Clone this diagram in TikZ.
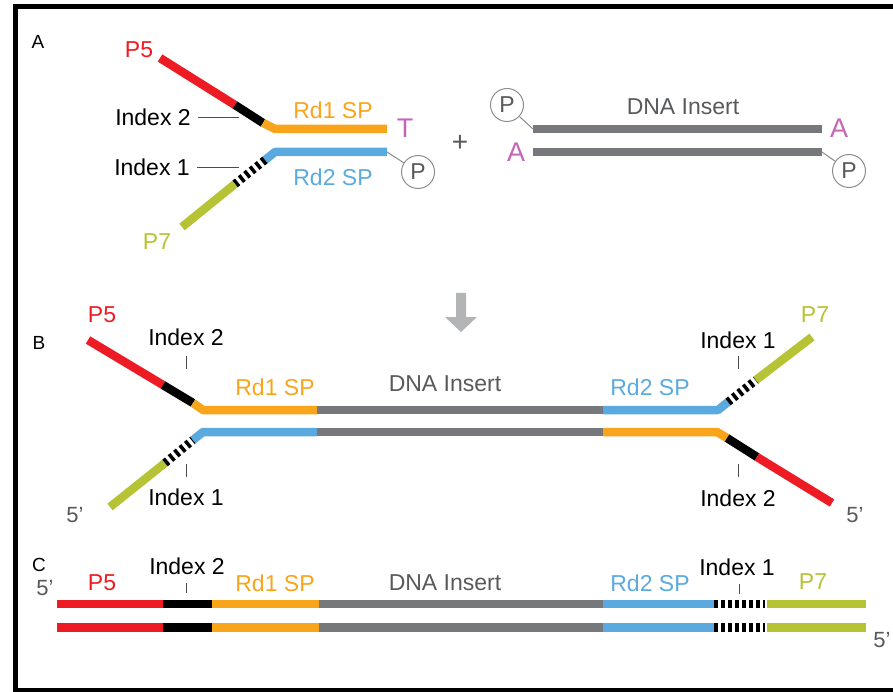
\documentclass[tikz,border=0pt]{standalone}
\usepackage{fontspec}
\setmainfont{Liberation Sans}
\usetikzlibrary{positioning,calc}
\definecolor{p5red}{HTML}{ED1C24}
\definecolor{rdorange}{HTML}{F9A51B}
\definecolor{rdblue}{HTML}{5AAADF}
\definecolor{p7green}{HTML}{B5C334}
\definecolor{insgray}{HTML}{77787B}
\definecolor{tamagenta}{HTML}{C466B6}
\definecolor{labgray}{HTML}{58595B}
\definecolor{arrgray}{HTML}{B3B4B6}

\begin{document}
\begin{tikzpicture}[
    x=1pt, y=-1pt,
    every node/.style={font=\fontsize{23}{25}\selectfont, inner sep=0pt},
    strand/.style={draw=#1, line width=8.5pt},
    idxdash/.style={draw=black, line width=8.5pt, dash pattern=on 3.5pt off 3.5pt},
    panel/.style={font=\fontsize{19}{21}\selectfont},
    tick/.style={draw=black!70, line width=0.9pt},
    phos/.style={circle, draw=black!45, line width=1pt, minimum size=33pt,
        text=labgray, font=\fontsize{23}{23}\selectfont},
    link/.style={draw=black!45, line width=1pt},
    base/.style={text=tamagenta, font=\fontsize{27}{27}\selectfont},
    prime/.style={text=labgray, font=\fontsize{22}{22}\selectfont},
]
\useasboundingbox (0,0) rectangle (893,692);

% === Frame ===
\draw[line width=4.5pt] (893,6.5) -- (15.5,6.5) -- (15.5,690) -- (893,690);

% === A: adapter and insert ===
\node[panel] (lblA) at (38,42) {A};

% adapter, upper strand
\coordinate (aP5) at (160,58);
\coordinate (aI2) at (235,105);
\coordinate (aI2e) at (263,123);
\coordinate (aBendU) at (275,129);
\coordinate (aRd1) at (387,129);
\draw[strand=p5red] (aP5) -- (aI2);
\draw[strand=black] (aI2) -- (aI2e);
\draw[strand=rdorange, line join=round] (aI2e) -- (aBendU) -- (aRd1);

% adapter, lower strand
\coordinate (aRd2) at (387,152);
\coordinate (aBendL) at (275,152);
\coordinate (aI1) at (265,160);
\coordinate (aI1e) at (235,184);
\coordinate (aP7) at (182,227);
\draw[strand=rdblue, line join=round] (aRd2) -- (aBendL) -- (aI1);
\draw[idxdash] (aI1) -- (aI1e);
\draw[strand=p7green] (aI1e) -- (aP7);

\node[text=p5red] (aP5lab) at (139,50) {P5};
\node[text=p7green] (aP7lab) at (157,242) {P7};
\node[text=rdorange] (aRd1lab) at (333,110) {Rd1 SP};
\node[text=rdblue] (aRd2lab) at (333,177) {Rd2 SP};
\node[base] (aT) at (405,128) {T};
\node (aI2lab) at (153,117) {Index 2};
\node (aI1lab) at (152,167) {Index 1};
\coordinate (aI2tip) at (239,117);
\coordinate (aI1tip) at (239,167);
\draw[tick] ([xshift=7pt]aI2lab.east) -- (aI2tip);
\draw[tick] ([xshift=7pt]aI1lab.east) -- (aI1tip);
\node[phos] (aPh) at (418,172) {P};
\draw[link] (aRd2) -- (aPh);

\node[text=labgray, font=\fontsize{28}{28}\selectfont] (plus) at (460,143) {+};

% insert
\coordinate (iTl) at (533,129);
\coordinate (iTr) at (822,129);
\coordinate (iBl) at (533,152);
\coordinate (iBr) at (822,152);
\draw[strand=insgray] (iTl) -- (iTr);
\draw[strand=insgray] (iBl) -- (iBr);
\node[text=labgray] (iLab) at (683,107) {DNA Insert};
\node[phos] (iPhT) at (507,105) {P};
\node[phos] (iPhB) at (849,171) {P};
\draw[link] (iTl) -- (iPhT);
\draw[link] (iBr) -- (iPhB);
\node[base] (iAT) at (839,128) {A};
\node[base] (iAB) at (516,152) {A};

% === Arrow ===
\fill[arrgray] (456,293) -- (466,293) -- (466,317) -- (477,317) -- (461,332)
    -- (445,317) -- (456,317) -- cycle;

% === B: ligated product ===
\node[panel] (lblB) at (39,343) {B};

% upper strand
\coordinate (bUP5) at (88,340);
\coordinate (bUI2) at (163,385);
\coordinate (bUI2e) at (193,403);
\coordinate (bUBend1) at (203,410);
\coordinate (bUIns) at (317,410);
\coordinate (bUInsE) at (603,410);
\coordinate (bUBend2) at (718,410);
\coordinate (bUI1) at (728,402);
\coordinate (bUI1e) at (756,380);
\coordinate (bUP7) at (812,337);
\draw[strand=p5red] (bUP5) -- (bUI2);
\draw[strand=black] (bUI2) -- (bUI2e);
\draw[strand=rdorange, line join=round] (bUI2e) -- (bUBend1) -- (bUIns);
\draw[strand=insgray] (bUIns) -- (bUInsE);
\draw[strand=rdblue, line join=round] (bUInsE) -- (bUBend2) -- (bUI1);
\draw[idxdash] (bUI1) -- (bUI1e);
\draw[strand=p7green] (bUI1e) -- (bUP7);

% lower strand
\coordinate (bLP7) at (110,507);
\coordinate (bLI1e) at (165,463);
\coordinate (bLI1) at (193,440);
\coordinate (bLBend1) at (203,432);
\coordinate (bLIns) at (317,432);
\coordinate (bLInsE) at (603,432);
\coordinate (bLBend2) at (717,432);
\coordinate (bLI2) at (727,438);
\coordinate (bLI2e) at (757,457);
\coordinate (bLP5) at (832,503);
\draw[strand=p7green] (bLP7) -- (bLI1e);
\draw[idxdash] (bLI1e) -- (bLI1);
\draw[strand=rdblue, line join=round] (bLI1) -- (bLBend1) -- (bLIns);
\draw[strand=insgray] (bLIns) -- (bLInsE);
\draw[strand=rdorange, line join=round] (bLInsE) -- (bLBend2) -- (bLI2);
\draw[strand=black] (bLI2) -- (bLI2e);
\draw[strand=p5red] (bLI2e) -- (bLP5);

\node[text=p5red] (bP5lab) at (102,315) {P5};
\node[text=p7green] (bP7lab) at (815,315) {P7};
\node[text=rdorange] (bRd1lab) at (275,387) {Rd1 SP};
\node[text=labgray] (bInslab) at (445,384) {DNA Insert};
\node[text=rdblue] (bRd2lab) at (650,387) {Rd2 SP};
\node (bI2top) at (186,337) {Index 2};
\node (bI1top) at (738,340) {Index 1};
\node (bI1bot) at (186,497) {Index 1};
\node (bI2bot) at (738,498) {Index 2};
\draw[tick] (bI2top.south) ++(0,10) -- ++(0,13);
\draw[tick] (bI1top.south) ++(0,7) -- ++(0,13);
\draw[tick] (bI1bot.north) ++(0,-11) -- ++(0,-13);
\draw[tick] (bI2bot.north) ++(0,-12) -- ++(0,-13);
\node[prime] (bPrimeL) at (75,515) {5’};
\node[prime] (bPrimeR) at (855,515) {5’};

% === C: final library fragment ===
\node[panel] (lblC) at (39,565) {C};
\foreach \yy in {604,627.5} {
    \draw[strand=p5red] (57,\yy) -- (163,\yy);
    \draw[strand=black] (163,\yy) -- (212,\yy);
    \draw[strand=rdorange] (212,\yy) -- (319,\yy);
    \draw[strand=insgray] (319,\yy) -- (603,\yy);
    \draw[strand=rdblue] (603,\yy) -- (714,\yy);
    \draw[idxdash] (714,\yy) -- (765,\yy);
    \draw[strand=p7green] (767,\yy) -- (866,\yy);
}
\node[prime] (cPrimeL) at (45,588) {5’};
\node[prime] (cPrimeR) at (882,640) {5’};
\node[text=p5red] (cP5lab) at (102,583) {P5};
\node (cI2lab) at (187,566) {Index 2};
\node[text=rdorange] (cRd1lab) at (275,583) {Rd1 SP};
\node[text=labgray] (cInslab) at (445,583) {DNA Insert};
\node[text=rdblue] (cRd2lab) at (650,583) {Rd2 SP};
\node (cI1lab) at (737,567) {Index 1};
\node[text=p7green] (cP7lab) at (813,582) {P7};
\draw[tick] (cI2lab.south) ++(-1,8.5) -- ++(0,10);
\draw[tick] (cI1lab.south) ++(2,8.5) -- ++(0,10);

\end{tikzpicture}
\end{document}
